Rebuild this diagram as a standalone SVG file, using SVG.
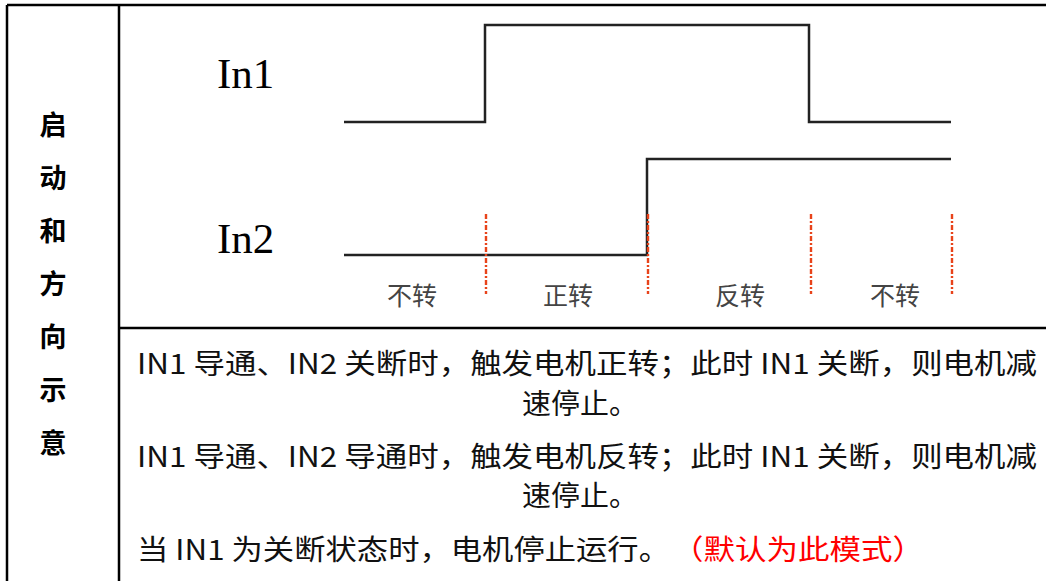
<svg xmlns="http://www.w3.org/2000/svg" width="1046" height="581" viewBox="0 0 1046 581">
<style>
.grid{stroke:#000;stroke-width:2.5;fill:none}
.wave{stroke:#222;stroke-width:2.5;fill:none;stroke-linejoin:miter}
.mark{stroke:#e8431a;stroke-width:2.4;stroke-dasharray:5 2 2 2;fill:none}
.side{font-family:"Noto Sans CJK SC",sans-serif;font-size:27px;font-weight:bold;fill:#000;text-anchor:middle}
.sig{font-family:"Liberation Serif",serif;font-size:43px;fill:#000}
.lab{font-family:"Noto Sans CJK SC",sans-serif;font-size:25px;fill:#444;text-anchor:middle}
.desc{font-family:"Noto Sans CJK SC",sans-serif;font-size:28px;fill:#111}
.red{fill:#ff0000}
</style>
<rect width="1046" height="581" fill="#fff"/>
<g id="table">
<path class="grid" d="M7 5H1046M7 5V581M119 5V581M119 328H1046"/>
</g>
<g id="side-title">
<text class="side" x="53" y="135">启</text>
<text class="side" x="53" y="188">动</text>
<text class="side" x="53" y="241">和</text>
<text class="side" x="53" y="294">方</text>
<text class="side" x="53" y="347">向</text>
<text class="side" x="53" y="400">示</text>
<text class="side" x="53" y="453">意</text>
</g>
<g id="in1">
<text class="sig" x="217" y="88">In1</text>
<path class="wave" d="M344 122H485V25H809V122H951"/>
</g>
<g id="in2">
<text class="sig" x="217" y="253">In2</text>
<path class="wave" d="M344 255H647V159H951"/>
</g>
<g id="connectors">
<line class="mark" x1="486" y1="214" x2="486" y2="294"/>
<line class="mark" x1="648" y1="214" x2="648" y2="294"/>
<line class="mark" x1="811" y1="214" x2="811" y2="294"/>
<line class="mark" x1="952" y1="214" x2="952" y2="294"/>
</g>
<g id="states">
<text class="lab" x="412" y="305">不转</text>
<text class="lab" x="568" y="305">正转</text>
<text class="lab" x="740" y="305">反转</text>
<text class="lab" x="895" y="305">不转</text>
</g>
<g id="description">
<text class="desc" x="137" y="374" textLength="900" lengthAdjust="spacingAndGlyphs">IN1 导通、IN2 关断时，触发电机正转；此时 IN1 关断，则电机减</text>
<text class="desc" x="522" y="414" textLength="116" lengthAdjust="spacingAndGlyphs">速停止。</text>
<text class="desc" x="137" y="467" textLength="900" lengthAdjust="spacingAndGlyphs">IN1 导通、IN2 导通时，触发电机反转；此时 IN1 关断，则电机减</text>
<text class="desc" x="522" y="506" textLength="116" lengthAdjust="spacingAndGlyphs">速停止。</text>
<text class="desc" x="137" y="560" textLength="533" lengthAdjust="spacingAndGlyphs">当 IN1 为关断状态时，电机停止运行。</text>
<text class="desc red" x="672" y="560" textLength="252" lengthAdjust="spacingAndGlyphs">（默认为此模式）</text>
</g>
</svg>
